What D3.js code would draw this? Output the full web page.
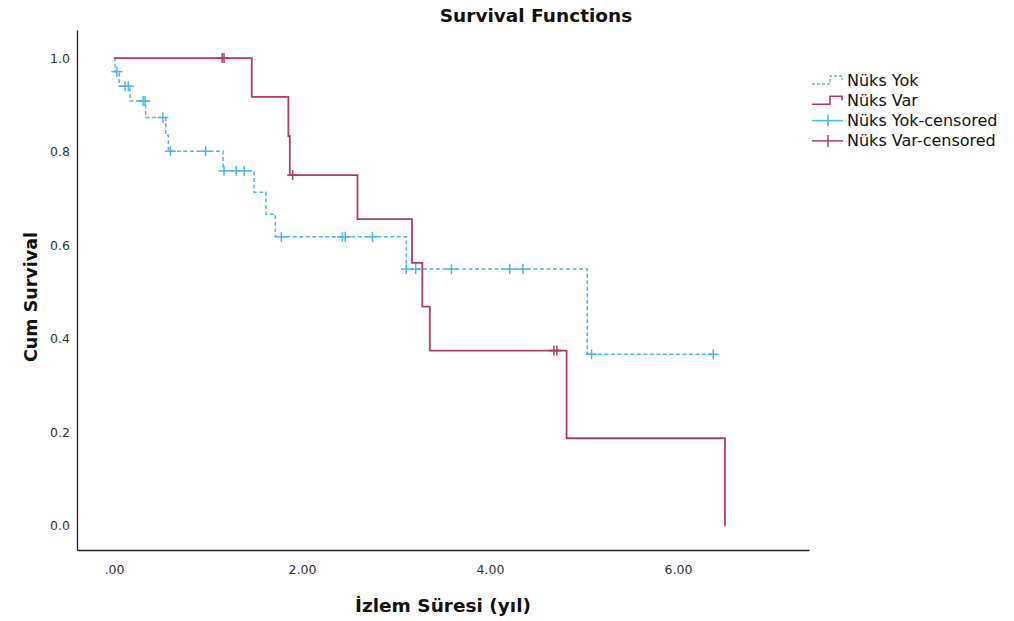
<!DOCTYPE html>
<html>
<head>
<meta charset="utf-8">
<script src="https://cdn.jsdelivr.net/npm/d3@7"></script>
<style>
  body { margin: 0; background: #fff; }
  svg { display: block; font-family: "DejaVu Sans", sans-serif; }
</style>
</head>
<body>
<div class="main"></div>
<script>
  //Data - Nüks Yok (no relapse)
  const yokEventTimes = [0.01, 0.055, 0.17, 0.336, 0.55, 0.578, 1.16, 1.49, 1.617, 1.716, 3.11, 5.035];
  const yokEventSurv  = [0.971, 0.940, 0.908, 0.873, 0.835, 0.801, 0.759, 0.713, 0.666, 0.618, 0.549, 0.367];
  const yokCensored   = [0.03, 0.117, 0.152, 0.31, 0.33, 0.52, 0.60, 0.975, 1.17, 1.30, 1.385, 1.78,
                         2.43, 2.46, 2.75, 3.11, 3.21, 3.59, 4.21, 4.35, 5.08, 6.375];

  //Data - Nüks Var (relapse)
  const varEventTimes = [1.465, 1.855, 1.87, 2.59, 3.17, 3.28, 3.36, 4.815, 6.5];
  const varEventSurv  = [0.917, 0.833, 0.75, 0.656, 0.5625, 0.469, 0.375, 0.1875, 0];
  const varCensored   = [1.15, 1.17, 1.90, 4.68, 4.71];

  //Ticks and labels
  const yTicks = [0, 0.2, 0.4, 0.6, 0.8, 1.0];
  const yTickLabels = ['0.0', '0.2', '0.4', '0.6', '0.8', '1.0'];
  const xTicks = [0, 2, 4, 6];
  const xTickLabels = ['.00', '2.00', '4.00', '6.00'];
  const seriesNames = ['Nüks Yok', 'Nüks Var', 'Nüks Yok-censored', 'Nüks Var-censored'];

  //Variables
  const width = 1014,
        height = 621,
        blue = '#4db5f2',
        red = '#b23a6a';

  //Create Canvas
  const svg = d3.select('.main')
                .append('svg')
                .attr('width', width)
                .attr('height', height);

  //Create Scales
  const xScale = d3.scaleLinear()
                   .domain([-0.394, 7.394])
                   .range([77, 809]);
  const yScale = d3.scaleLinear()
                   .domain([-0.0513, 1.06])
                   .range([550, 30]);

  //Axes (no tick marks, only labels)
  const yAxis = svg.append('g')
                   .attr('transform', 'translate(77,0)')
                   .call(d3.axisLeft(yScale).tickValues(yTicks).tickSize(0).tickPadding(7)
                          .tickFormat((d, i) => yTickLabels[i]));
  const xAxis = svg.append('g')
                   .attr('transform', 'translate(0,550)')
                   .call(d3.axisBottom(xScale).tickValues(xTicks).tickSize(0).tickPadding(15)
                          .tickFormat((d, i) => xTickLabels[i]));
  [xAxis, yAxis].forEach(a => {
    a.select('.domain').attr('stroke', '#222').attr('stroke-width', 1.3);
    a.selectAll('text').attr('font-size', 12.5).attr('fill', '#333')
     .style('font-family', '"DejaVu Sans", sans-serif');
  });

  //Step function helpers
  function stepPoints(times, surv, lastTime) {
    const pts = [[0, 1]];
    let s = 1;
    times.forEach((t, i) => {
      pts.push([t, s]);
      s = surv[i];
      pts.push([t, s]);
    });
    if (lastTime > times[times.length - 1]) pts.push([lastTime, s]);
    return pts;
  }
  function survAt(times, surv, t) {
    let s = 1;
    times.forEach((et, i) => { if (et <= t) s = surv[i]; });
    return s;
  }

  const line = d3.line()
                 .x(d => xScale(d[0]))
                 .y(d => yScale(d[1]));

  const groups = [
    {times: yokEventTimes, surv: yokEventSurv, cens: yokCensored, color: blue, dash: '4,2.5', w: 1.5},
    {times: varEventTimes, surv: varEventSurv, cens: varCensored, color: red, dash: null, w: 1.8}
  ];

  groups.forEach(g => {
    svg.append('path')
       .datum(stepPoints(g.times, g.surv, d3.max(g.cens)))
       .attr('d', line)
       .attr('fill', 'none')
       .attr('stroke', g.color)
       .attr('stroke-width', g.w)
       .attr('stroke-dasharray', g.dash);

    //Censored marks
    const marks = svg.append('g').selectAll('g')
       .data(g.cens)
       .enter()
       .append('g')
       .attr('transform', d => `translate(${xScale(d)},${yScale(survAt(g.times, g.surv, d))})`)
       .attr('stroke', g.color)
       .attr('stroke-width', 1.5);
    marks.append('line').attr('x1', -5.5).attr('x2', 5.5);
    marks.append('line').attr('y1', -5).attr('y2', 5);
  });

  //Title and axis titles
  svg.append('text')
     .attr('x', 536).attr('y', 22)
     .attr('text-anchor', 'middle')
     .attr('font-size', 18.5).attr('font-weight', 'bold').attr('fill', '#111')
     .text('Survival Functions');
  svg.append('text')
     .attr('transform', 'translate(37,297) rotate(-90)')
     .attr('text-anchor', 'middle')
     .attr('font-size', 17.5).attr('font-weight', 'bold').attr('fill', '#111')
     .text('Cum Survival');
  svg.append('text')
     .attr('x', 443).attr('y', 612)
     .attr('text-anchor', 'middle')
     .attr('font-size', 18.5).attr('font-weight', 'bold').attr('fill', '#111')
     .text('İzlem Süresi (yıl)');

  //Legend
  const legend = svg.append('g').attr('transform', 'translate(812,80)');
  const rowH = 20.3;
  seriesNames.forEach((name, i) => {
    const row = legend.append('g').attr('transform', `translate(0,${i * rowH})`);
    const color = i % 2 === 0 ? blue : red;
    if (i < 2) {
      row.append('path')
         .attr('d', 'M0,4 H18 V-4 H30 V0')
         .attr('fill', 'none')
         .attr('stroke', color)
         .attr('stroke-width', i === 0 ? 1.3 : 1.6)
         .attr('stroke-dasharray', i === 0 ? '3,2' : null);
    } else {
      row.append('line').attr('x1', 0).attr('x2', 31)
         .attr('stroke', color).attr('stroke-width', 1.5);
      row.append('line').attr('x1', 16).attr('x2', 16).attr('y1', -6).attr('y2', 6)
         .attr('stroke', color).attr('stroke-width', 1.5);
    }
    row.append('text')
       .attr('x', 35).attr('y', 5.5)
       .attr('font-size', 16).attr('fill', '#111')
       .text(name);
  });
</script>
</body>
</html>
